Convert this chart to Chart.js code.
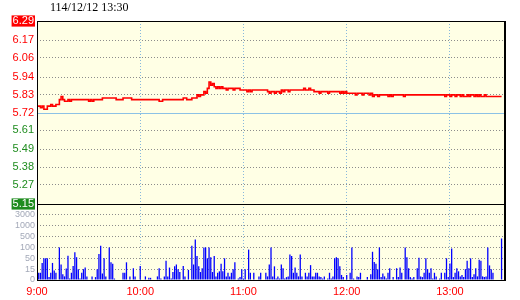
<!DOCTYPE html>
<html><head><meta charset="utf-8">
<script src="https://cdn.jsdelivr.net/npm/chart.js@4"></script>
<style>html,body{margin:0;padding:0;background:#fff;}#wrap{width:520px;height:300px;}</style>
</head><body><div id="wrap"><canvas id="c" width="520" height="300"></canvas></div>
<script>
const titleText = '114/12/12 13:30';
const refPrice = 5.72;
const priceMin = 5.15;
const priceMax = 6.29;
const priceTicks = [5.15, 5.27, 5.38, 5.49, 5.61, 5.72, 5.83, 5.94, 6.06, 6.17, 6.29];
const priceTickLabels = ['5.15', '5.27', '5.38', '5.49', '5.61', '5.72', '5.83', '5.94', '6.06', '6.17', '6.29'];
const volTickValues = [0, 15, 50, 100, 500, 1000, 3000, 5000];
const volTickLabels = ['0', '15', '50', '100', '500', '1000', '3000'];
const timeTickMinutes = [0, 60, 120, 180, 240];
const timeTickLabels = ['9:00', '10:00', '11:00', '12:00', '13:00'];
const axisEndMinute = 272;

// one value per minute from 9:00 (index 0) to 13:30 (index 270)
const prices = [
  5.76,5.76,5.75,5.76,5.74,5.74,5.76,5.76,5.77,5.76,5.76,5.77,5.77,5.80,5.82,5.80,5.79,5.79,5.80,5.79,
  5.80,5.80,5.80,5.80,5.80,5.80,5.80,5.80,5.80,5.80,
  5.79,5.80,5.79,5.80,5.80,5.80,5.80,5.80,
  5.81,5.81,5.81,5.81,5.81,5.81,5.81,5.81,
  5.80,5.80,5.80,5.80,
  5.81,5.81,5.81,5.81,5.81,
  5.80,5.80,5.80,5.80,5.80,5.80,5.80,5.80,5.80,5.80,5.80,5.80,5.80,5.80,5.80,5.80,
  5.79,5.79,5.80,
  5.80,5.80,5.80,5.80,5.80,5.80,5.80,5.80,5.80,5.80,5.80,
  5.81,5.81,5.80,5.80,5.80,5.81,5.81,5.81,
  5.83,5.82,5.83,5.83,5.85,5.84,5.87,5.91,5.89,5.90,5.88,
  5.87,5.88,5.87,5.88,
  5.87,5.87,5.86,5.87,5.87,5.87,5.86,5.87,5.87,5.87,5.86,5.86,
  5.86,5.86,5.85,5.86,5.85,5.86,
  5.86,5.86,5.86,5.86,5.86,5.86,5.86,5.86,
  5.85,5.84,5.85,5.85,5.84,5.85,5.85,5.84,
  5.86,5.85,5.86,5.86,5.85,5.86,
  5.86,5.86,5.86,5.86,5.86,5.86,
  5.86,5.87,5.86,5.86,5.87,5.86,5.86,
  5.85,5.85,5.85,5.84,5.85,5.85,5.85,5.85,5.84,5.85,5.85,5.85,5.85,5.85,
  5.85,5.84,5.85,5.84,5.85,5.84,5.84,5.84,
  5.84,5.84,5.83,5.84,5.84,5.84,5.83,5.84,5.84,5.84,5.83,5.84,
  5.82,5.83,5.83,5.82,5.83,
  5.83,5.83,5.83,5.83,5.82,5.83,5.82,5.83,5.83,5.83,5.83,5.83,5.83,5.82,5.83,
  5.83,5.83,5.83,5.83,5.83,5.83,5.83,5.83,5.83,5.83,5.83,5.83,5.83,5.83,5.83,5.83,5.83,5.83,5.83,5.83,5.83,
  5.83,5.82,5.83,5.83,5.82,5.83,5.83,5.82,5.83,
  5.83,5.82,5.83,5.82,5.82,5.83,5.82,5.83,5.83,5.82,5.83,5.82,5.83,5.82,5.82,5.83,5.82,
  5.82,5.82,5.82,5.82,5.82,5.82,5.82,5.82,5.82
];

// volume (lots) per minute
const volumes = [
  48,10,10,35,50,50,50,4,10,35,13,10,0,100,30,8,5,17,62,2,10,25,78,55,15,2,10,15,20,5,0,0,5,0,4,15,70,160,9,50,5,0,100,37,32,2,0,0,0,0,10,10,37,0,5,
  0,18,5,0,0,25,0,0,5,0,3,3,0,0,0,5,18,2,0,5,42,5,20,2,11,24,30,15,11,0,25,5,0,14,0,165,30,390,60,24,11,18,100,100,50,100,55,11,60,5,10,12,32,12,50,
  5,10,5,10,15,37,0,2,4,15,2,15,0,90,10,0,10,0,0,5,10,0,0,10,5,30,100,5,24,2,5,2,30,18,2,4,5,68,60,10,20,10,5,68,5,0,10,5,10,28,5,5,10,10,5,
  4,2,5,0,2,10,2,5,50,55,50,24,7,4,0,7,0,10,100,2,0,5,4,10,0,0,0,4,0,8,80,38,32,15,100,4,9,5,2,10,18,0,4,0,18,4,20,10,0,100,55,18,4,2,
  4,0,18,52,5,4,10,50,15,10,18,2,10,5,0,2,10,0,10,50,4,33,95,4,10,18,12,5,7,4,15,42,18,50,4,8,18,5,45,42,5,4,5,100,27,15,10,0,0,0,0,430
];

// piecewise mapping of a volume onto the panel's banded scale
function volLevel(v) {
  for (let i = 0; i < volTickValues.length - 1; i++) {
    const a = volTickValues[i], b = volTickValues[i + 1];
    if (v <= b) return i + (v - a) / (b - a);
  }
  return volTickValues.length - 1;
}

const RED = '#ff0000', GREEN = '#1e8c1e';
const lastP = priceTicks.length - 1;

const framePlugin = {
  id: 'frame',
  beforeDraw(chart) {
    const {ctx, chartArea: a} = chart;
    ctx.save();
    ctx.fillStyle = '#ffffe5';
    ctx.fillRect(a.left, a.top, a.right - a.left, a.bottom - a.top);
    ctx.restore();
  },
  beforeDatasetsDraw(chart) {
    const {ctx, chartArea: a} = chart;
    const y = Math.round(chart.scales.y.getPixelForValue(refPrice)) + 0.5;
    ctx.save();
    ctx.strokeStyle = '#8cc2e6';
    ctx.lineWidth = 1;
    ctx.beginPath(); ctx.moveTo(a.left, y); ctx.lineTo(a.right, y); ctx.stroke();
    ctx.restore();
  },
  afterDraw(chart) {
    const {ctx, chartArea: a} = chart;
    const sep = Math.round(chart.scales.yv.top) + 0.5;
    ctx.save();
    ctx.strokeStyle = '#000';
    ctx.lineWidth = 1;
    ctx.beginPath();
    ctx.moveTo(a.left + 0.5, a.top); ctx.lineTo(a.left + 0.5, a.bottom + 1);
    ctx.moveTo(a.left, a.top + 0.5); ctx.lineTo(a.right, a.top + 0.5);
    ctx.moveTo(a.left, a.bottom + 0.5); ctx.lineTo(a.right, a.bottom + 0.5);
    ctx.moveTo(a.left, sep); ctx.lineTo(a.right, sep);
    ctx.stroke();
    ctx.lineWidth = 2;
    ctx.beginPath(); ctx.moveTo(a.right, a.top); ctx.lineTo(a.right, a.bottom + 1); ctx.stroke();
    ctx.fillStyle = '#000';
    ctx.font = "12px 'Liberation Serif', serif";
    ctx.textBaseline = 'middle';
    ctx.textAlign = 'left';
    ctx.fillText(titleText, 50, 8);
    ctx.restore();
  }
};

Chart.defaults.font.family = "'Liberation Sans', Arial, sans-serif";

new Chart(document.getElementById('c'), {
  type: 'bar',
  data: {
    datasets: [
      {
        type: 'line',
        data: prices.map((p, i) => ({x: i, y: p})),
        xAxisID: 'x', yAxisID: 'y',
        borderColor: RED, borderWidth: 1.6, pointRadius: 0, stepped: true, fill: false
      },
      {
        type: 'bar',
        data: volumes.map((v, i) => ({x: i, y: volLevel(v)})),
        xAxisID: 'x', yAxisID: 'yv',
        backgroundColor: '#0000ff', barPercentage: 0.75, categoryPercentage: 1, grouped: false
      }
    ]
  },
  options: {
    responsive: false, animation: false, devicePixelRatio: 1,
    layout: {padding: {left: 0, right: 15, top: 21, bottom: 0}},
    plugins: {legend: {display: false}, tooltip: {enabled: false}, title: {display: false}},
    scales: {
      x: {
        type: 'linear', min: 0, max: axisEndMinute, position: 'bottom', offset: false,
        afterBuildTicks: s => { s.ticks = timeTickMinutes.map(v => ({value: v})); },
        afterFit: s => { s.height = 20; },
        ticks: {
          callback: v => timeTickLabels[timeTickMinutes.indexOf(v)],
          color: RED, font: {size: 11}, padding: 5, maxRotation: 0, autoSkip: false
        },
        grid: {color: c => c.index === 0 ? 'rgba(0,0,0,0)' : '#88b8dc', drawTicks: false, offset: false},
        border: {display: false, dash: [1, 2]}
      },
      y: {
        type: 'linear', position: 'left', stack: 'p', stackWeight: 183, weight: 2,
        min: priceMin, max: priceMax,
        afterBuildTicks: s => { s.ticks = priceTicks.map(v => ({value: v})); },
        afterFit: s => { s.width = 37; },
        ticks: {
          callback: (v, i) => priceTickLabels[i],
          color: c => (c.index === 0 || c.index === lastP) ? '#ffffff' : (c.tick.value >= refPrice ? RED : GREEN),
          font: {size: 11}, padding: 3, autoSkip: false,
          showLabelBackdrop: c => c.index === 0 || c.index === lastP,
          backdropColor: c => c.index === 0 ? GREEN : RED,
          backdropPadding: {top: -1, bottom: -1, left: 1, right: 1}
        },
        grid: {
          color: c => (c.index === 0 || c.index === lastP || c.tick.value === refPrice) ? 'rgba(0,0,0,0)' : '#8c8c8c',
          drawTicks: false
        },
        border: {display: false, dash: [1, 2]}
      },
      yv: {
        type: 'linear', position: 'left', stack: 'p', stackWeight: 76, weight: 1,
        min: 0, max: volTickValues.length - 1,
        afterBuildTicks: s => { s.ticks = volTickLabels.map((l, i) => ({value: i})); },
        afterFit: s => { s.width = 37; },
        ticks: {
          callback: (v, i) => volTickLabels[i],
          color: '#a3a9b8', font: {size: 9}, padding: 2, autoSkip: false
        },
        grid: {color: c => c.index === 0 ? 'rgba(0,0,0,0)' : '#8c8c8c', drawTicks: false},
        border: {display: false, dash: [1, 2]}
      }
    }
  },
  plugins: [framePlugin]
});
</script>
</body></html>
